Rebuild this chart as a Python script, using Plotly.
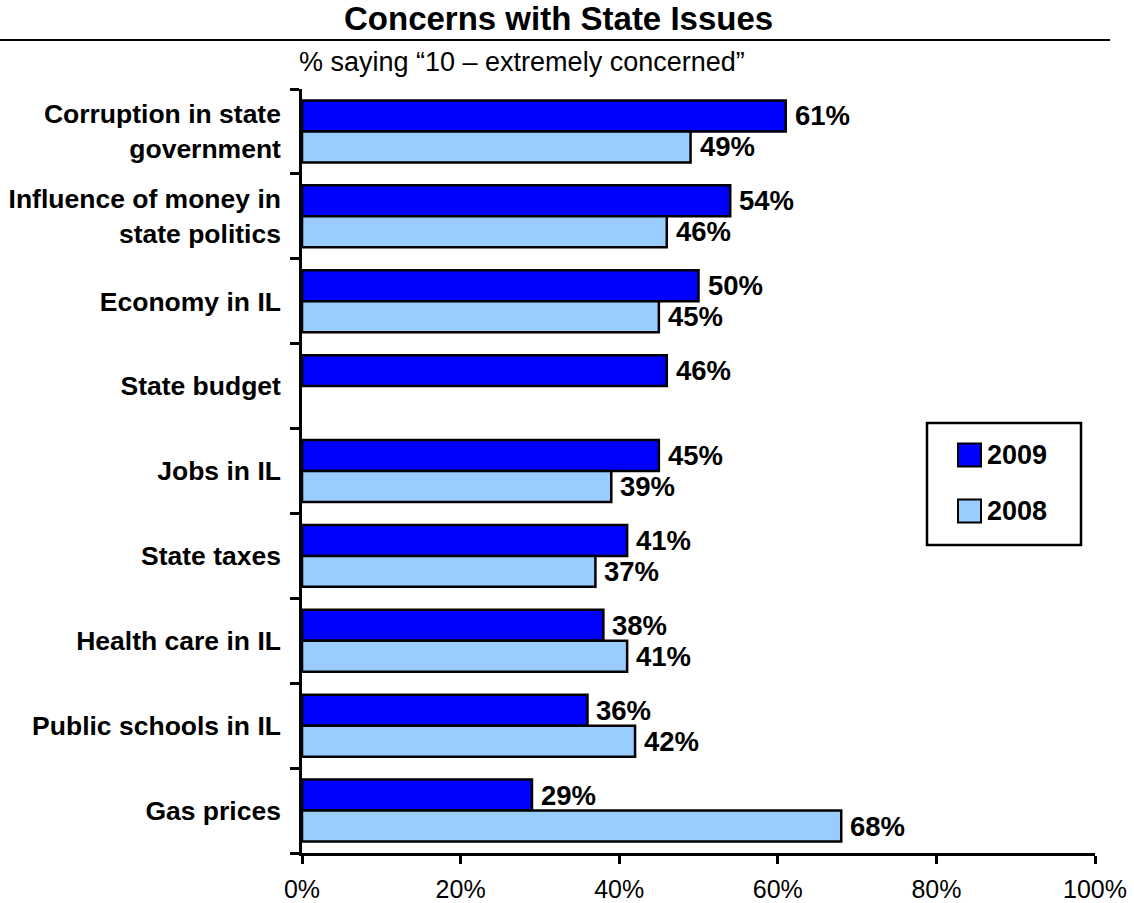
import plotly.graph_objects as go

# Survey data: share saying "10 – extremely concerned"
categories = [
    "Corruption in state<br>government",
    "Influence of money in<br>state politics",
    "Economy in IL",
    "State budget",
    "Jobs in IL",
    "State taxes",
    "Health care in IL",
    "Public schools in IL",
    "Gas prices",
]
pct_2009 = [61, 54, 50, 46, 45, 41, 38, 36, 29]
pct_2008 = [49, 46, 45, None, 39, 37, 41, 42, 68]
x_ticks = [0, 20, 40, 60, 80, 100]

W, H = 1134, 903
L, R, T, B = 302, 39, 89, 50
PW, PH = W - L - R, H - T - B

FONT = "Arial, Liberation Sans, sans-serif"
C2009 = "#0000FF"
C2008 = "#99CCFF"


def px_x(px):
    return (px - L) / PW


def px_y(py):
    return 1 - (py - T) / PH


fig = go.Figure()
fig.add_trace(go.Bar(
    y=categories, x=pct_2009, orientation="h", name="2009",
    marker=dict(color=C2009, line=dict(color="black", width=2.5)),
    showlegend=False,
))
fig.add_trace(go.Bar(
    y=categories, x=pct_2008, orientation="h", name="2008",
    marker=dict(color=C2008, line=dict(color="black", width=2.5)),
    showlegend=False,
))

annotations = []
# value labels next to each bar end
bar_half = PH / len(categories) * (1 - 0.27) / 4
for series, shift in ((pct_2009, bar_half), (pct_2008, -bar_half)):
    for cat, v in zip(categories, series):
        if v is None:
            continue
        annotations.append(dict(
            x=v, y=cat, xref="x", yref="y", text=f"<b>{v}%</b>",
            showarrow=False, xanchor="left", yanchor="middle",
            xshift=7, yshift=shift,
            font=dict(family=FONT, size=27.5, color="black"),
        ))

# title and subtitle
annotations.append(dict(
    x=px_x(558), y=px_y(18), xref="paper", yref="paper",
    text="<b>Concerns with State Issues</b>", showarrow=False,
    xanchor="center", yanchor="middle",
    font=dict(family=FONT, size=33, color="black"),
))
annotations.append(dict(
    x=px_x(522), y=px_y(62), xref="paper", yref="paper",
    text="% saying \u201c10 \u2013 extremely concerned\u201d", showarrow=False,
    xanchor="center", yanchor="middle",
    font=dict(family=FONT, size=27, color="black"),
))

# legend box with its two entries
legend_items = [("2009", C2009, 455), ("2008", C2008, 511)]
shapes = [
    dict(type="line", xref="paper", yref="paper",
         x0=px_x(0), x1=px_x(1110), y0=px_y(40), y1=px_y(40),
         line=dict(color="black", width=2)),
    dict(type="rect", xref="paper", yref="paper",
         x0=px_x(927), x1=px_x(1081), y0=px_y(423), y1=px_y(545),
         line=dict(color="black", width=2.5), fillcolor="white"),
]
for label, color, cy in legend_items:
    shapes.append(dict(
        type="rect", xref="paper", yref="paper",
        x0=px_x(958), x1=px_x(981), y0=px_y(cy - 11.5), y1=px_y(cy + 11.5),
        line=dict(color="black", width=2), fillcolor=color,
    ))
    annotations.append(dict(
        x=px_x(985), y=px_y(cy), xref="paper", yref="paper",
        text=f"<b>{label}</b>", showarrow=False,
        xanchor="left", yanchor="middle",
        font=dict(family=FONT, size=27, color="black"),
    ))

fig.update_layout(
    width=W, height=H,
    margin=dict(l=L, r=R, t=T, b=B, pad=0),
    paper_bgcolor="white", plot_bgcolor="white",
    barmode="group", bargap=0.27, bargroupgap=0,
    annotations=annotations, shapes=shapes,
    showlegend=False,
    xaxis=dict(
        range=[0, 100], tickvals=x_ticks,
        ticktext=[f"{t}%" for t in x_ticks],
        showgrid=False, zeroline=False, automargin=False,
        showline=True, linecolor="black", linewidth=2.5,
        ticks="outside", ticklen=8, tickwidth=2.5, tickcolor="black",
        tickfont=dict(family=FONT, size=25, color="black"),
        ticklabelstandoff=4,
    ),
    yaxis=dict(
        autorange="reversed", type="category",
        showgrid=False, zeroline=False, automargin=False,
        showline=True, linecolor="black", linewidth=2.5,
        ticks="outside", ticklen=9, tickwidth=2.5, tickcolor="black",
        tickson="boundaries",
        tickfont=dict(family=FONT, size=26.5, color="black"),
        ticklabelstandoff=13,
    ),
)

# bold category labels
fig.update_yaxes(tickmode="array", tickvals=categories,
                 ticktext=[f"<b>{c.replace('<br>', '</b><br><b>')}</b>" for c in categories])

fig.write_html("out.html")
